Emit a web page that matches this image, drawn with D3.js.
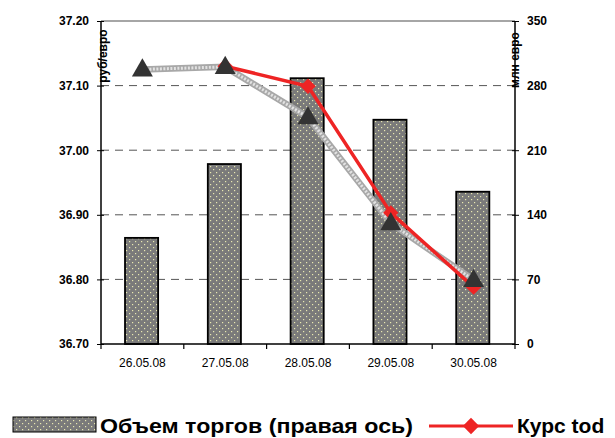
<!DOCTYPE html>
<html>
<head>
<meta charset="utf-8">
<script src="https://cdn.jsdelivr.net/npm/d3@7"></script>
<style>
  body { margin: 0; background: #fff; }
  svg { font-family: "Liberation Sans", Arial, sans-serif; }
</style>
</head>
<body>
<svg id="chart" width="615" height="438"></svg>
<script>
// data
const dates = ['26.05.08', '27.05.08', '28.05.08', '29.05.08', '30.05.08'];
const volume = [115, 195, 288, 243, 165];            // right axis, mln euro
const courseTod = [null, 37.130, 37.099, 36.903, 36.788];
const courseTom = [37.125, 37.129, 37.051, 36.887, 36.799];
const leftTicks = [36.70, 36.80, 36.90, 37.00, 37.10, 37.20];
const rightTicks = [0, 70, 140, 210, 280, 350];

const margin = { top: 21, right: 100, bottom: 94, left: 101 };
const svg = d3.select('#chart');
const width = 615 - margin.left - margin.right;
const height = 438 - margin.top - margin.bottom;

const defs = svg.append('defs');
// dotted bar fill
const pat = defs.append('pattern')
  .attr('id', 'dots')
  .attr('patternUnits', 'userSpaceOnUse')
  .attr('width', 6).attr('height', 6);
pat.append('rect').attr('width', 6).attr('height', 6).attr('fill', '#7a7a7a');
pat.append('rect').attr('x', 1).attr('y', 1).attr('width', 1.2).attr('height', 1.2).attr('fill', '#e8e8b0');
pat.append('rect').attr('x', 4).attr('y', 4).attr('width', 1.2).attr('height', 1.2).attr('fill', '#e8e8b0');

const g = svg.append('g').attr('transform', `translate(${margin.left}, ${margin.top})`);

const x = d3.scaleBand().domain(dates).range([0, width]);
const yL = d3.scaleLinear().domain([36.7, 37.2]).range([height, 0]);
const yR = d3.scaleLinear().domain([0, 350]).range([height, 0]);

// top border
g.append('line').attr('x1', 0).attr('x2', width).attr('y1', 0).attr('y2', 0)
  .attr('stroke', '#888').attr('stroke-width', 1.5);

// dashed grid lines
g.append('g')
  .selectAll('line')
  .data(leftTicks.slice(1, -1))
  .enter()
  .append('line')
  .attr('x1', 0).attr('x2', width)
  .attr('y1', (d) => yL(d)).attr('y2', (d) => yL(d))
  .attr('stroke', '#555').attr('stroke-width', 1)
  .attr('stroke-dasharray', '8,6');

// bars
g.selectAll('.bar')
  .data(volume)
  .enter()
  .append('rect')
  .attr('class', 'bar')
  .attr('x', (d, i) => x(dates[i]) + x.bandwidth() * 0.29)
  .attr('width', x.bandwidth() * 0.4)
  .attr('y', (d) => yR(d))
  .attr('height', (d) => height - yR(d))
  .attr('fill', 'url(#dots)')
  .attr('stroke', '#000').attr('stroke-width', 1.8);

const cx = (d, i) => x(dates[i]) + x.bandwidth() / 2;

// grey patterned line (second rate)
const lineTom = d3.line().x(cx).y((d) => yL(d));
g.append('path').datum(courseTom).attr('d', lineTom)
  .attr('fill', 'none').attr('stroke', '#a8a8a8').attr('stroke-width', 6.5);
g.append('path').datum(courseTom).attr('d', lineTom)
  .attr('fill', 'none').attr('stroke', '#e2e2e2').attr('stroke-width', 3)
  .attr('stroke-dasharray', '2,1.5');

// red line
const lineTod = d3.line().defined((d) => d !== null).x(cx).y((d) => yL(d));
g.append('path').datum(courseTod).attr('d', lineTod)
  .attr('fill', 'none').attr('stroke', '#ee2424').attr('stroke-width', 3.5);

g.selectAll('.diamond')
  .data(courseTod)
  .enter()
  .filter((d) => d !== null)
  .append('path')
  .attr('class', 'diamond')
  .attr('transform', (d) => `translate(${cx(d, courseTod.indexOf(d))}, ${yL(d)})`)
  .attr('d', d3.symbol(d3.symbolDiamond2, 150))
  .attr('fill', '#ee2424');

// triangles
g.selectAll('.tri')
  .data(courseTom)
  .enter()
  .append('path')
  .attr('class', 'tri')
  .attr('transform', (d, i) => `translate(${cx(d, i)}, ${yL(d) + 1})`)
  .attr('d', d3.symbol(d3.symbolTriangle, 190))
  .attr('fill', '#333');

// left axis
const axL = g.append('g')
  .call(d3.axisLeft(yL).tickValues(leftTicks).tickFormat(d3.format('.2f')).tickSize(4).tickPadding(8));
axL.selectAll('.tick line').attr('x2', 3).attr('x1', -4);
axL.select('.domain').attr('stroke', '#000').attr('stroke-width', 1.5).attr('d', `M0,0V${height}`);
axL.selectAll('text').style('font-size', '12px').style('font-weight', 'bold');

// right axis
const axR = g.append('g')
  .attr('transform', `translate(${width}, 0)`)
  .call(d3.axisRight(yR).tickValues(rightTicks).tickSize(4).tickPadding(8));
axR.selectAll('.tick line').attr('x1', -3).attr('x2', 4);
axR.select('.domain').attr('stroke', '#000').attr('stroke-width', 1.5).attr('d', `M0,0V${height}`);
axR.selectAll('text').style('font-size', '12px').style('font-weight', 'bold');

// bottom axis
const axB = g.append('g')
  .attr('transform', `translate(0, ${height})`)
  .call(d3.axisBottom(x).tickSize(0).tickPadding(14));
axB.select('.domain').attr('stroke', '#000').attr('stroke-width', 1.5).attr('d', `M0,0H${width}`);
axB.selectAll('text').style('font-size', '12px');
axB.selectAll('.edge')
  .data(d3.range(dates.length + 1))
  .enter()
  .append('line')
  .attr('class', 'edge')
  .attr('x1', (d) => d * x.step()).attr('x2', (d) => d * x.step())
  .attr('y1', 0).attr('y2', 5)
  .attr('stroke', '#000').attr('stroke-width', 1.2);

// axis titles
svg.append('text')
  .attr('transform', 'translate(107, 56) rotate(-90)')
  .attr('text-anchor', 'middle')
  .style('font-size', '12px').style('font-weight', 'bold')
  .text('руб/евро');
svg.append('text')
  .attr('transform', 'translate(519, 60) rotate(-90)')
  .attr('text-anchor', 'middle')
  .style('font-size', '12px').style('font-weight', 'bold')
  .text('млн евро');

// legend
const leg = svg.append('g').attr('transform', 'translate(0, 425)');
leg.append('rect').attr('x', 13).attr('y', -8).attr('width', 83).attr('height', 15)
  .attr('fill', 'url(#dots)').attr('stroke', '#000').attr('stroke-width', 1);
leg.append('text').attr('x', 100).attr('y', 7.5)
  .style('font-size', '21px').style('font-weight', 'bold')
  .attr('textLength', 313).attr('lengthAdjust', 'spacingAndGlyphs')
  .text('Объем торгов (правая ось)');
leg.append('line').attr('x1', 429).attr('x2', 513).attr('y1', 1).attr('y2', 1)
  .attr('stroke', '#ee2424').attr('stroke-width', 3);
leg.append('path').attr('transform', 'translate(471, 1)')
  .attr('d', d3.symbol(d3.symbolDiamond2, 170)).attr('fill', '#ee2424');
leg.append('text').attr('x', 517).attr('y', 7.5)
  .style('font-size', '21px').style('font-weight', 'bold')
  .text('Курс tod');
</script>
</body>
</html>
